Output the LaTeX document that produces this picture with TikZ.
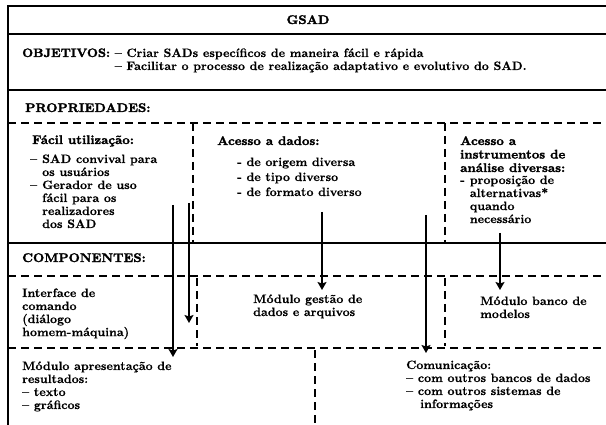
\documentclass[tikz,border=0pt]{standalone}
\usepackage{fontspec}
\usepackage{tikz}
\usetikzlibrary{arrows.meta}
\newfontfamily\headfont{lmroman10-bold.otf}[FakeBold=2, FakeStretch=1.04]
\newfontfamily\bodyfont{lmroman10-bold.otf}[FakeBold=0.4]
\newcommand{\rows}[1]{\begin{tabular}[t]{@{}l@{}}#1\end{tabular}}
\newcommand{\hang}[1]{\begin{tabular}[t]{@{}l@{\hspace{5pt}}l@{}}#1\end{tabular}}

\begin{document}
\begin{tikzpicture}[x=1pt, y=-1pt,
        frame/.style={line width=1.5pt},
        splitline/.style={line width=1.5pt, dash pattern=on 8pt off 5pt},
        flow/.style={line width=1.5pt, -{Stealth[length=8pt, width=9pt, inset=1.5pt]}},
        txt/.style={anchor=base west, inner sep=0pt,
            font=\bodyfont\fontsize{12.2}{13}\selectfont},
        heading/.style={txt, font=\headfont\fontsize{12.5}{13.5}\selectfont}
    ]
    \useasboundingbox (0,0) rectangle (606,425);

    % frame and dividers
    \draw[frame] (8,425) -- (8,6) -- (606,6);
    \draw[frame] (8,34) -- (606,34);
    \draw[frame] (8,90) -- (606,90);
    \draw[splitline] (8,123) -- (606,123);
    \draw[splitline] (193,123) -- (193,243);
    \draw[splitline] (445,123) -- (445,243);
    \draw[frame] (8,243) -- (606,243);
    \draw[splitline] (8,276) -- (606,276);
    \draw[splitline] (197,278) -- (197,346);
    \draw[splitline] (445,278) -- (445,346);
    \draw[splitline] (8,348) -- (606,348);
    \draw[splitline] (315,350) -- (315,425);

    % texts
    \node[heading, anchor=base] (gsad) at (308,24) {GSAD};
    \node[txt] (obj) at (22,57) {{\headfont OBJETIVOS:} \rows{– Criar SADs específicos de maneira fácil e rápida\\
        – Facilitar o processo de realização adaptativo e evolutivo do SAD.}};
    \node[heading] (prop) at (25,112) {PROPRIEDADES:};

    \node[heading] (facil) at (32,144) {Fácil utilização:};
    \node[txt] (facillist) at (30,163) {\hang{–& SAD convival para\\ & os usuários\\
        –& Gerador de uso\\ & fácil para os\\ & realizadores\\ & dos SAD}};

    \node[heading] (dados) at (217,145) {Acesso a dados:};
    \node[txt] (dadoslist) at (237,166) {\rows{- de origem diversa\\[2pt]
        - de tipo diverso\\[2pt] - de formato diverso}};

    \node[heading] (instr) at (460,145) {\rows{Acesso a\\ instrumentos de\\ análise diversas:}};
    \node[txt] (instrlist) at (460,184) {\hang{-& proposição de\\ & alternativas*\\ & quando\\ & necessário}};

    \node[heading] (comp) at (22,262) {COMPONENTES:};
    \node[txt] (iface) at (22,297) {\rows{Interface de\\ comando\\ (diálogo\\ homem-máquina)}};
    \node[txt] (gestao) at (253,303) {\rows{Módulo gestão de\\ dados e arquivos}};
    \node[txt] (banco) at (480,305) {\rows{Módulo banco de\\ modelos}};
    \node[txt] (apres) at (22,370) {\rows{Módulo apresentação de\\ resultados:\\ – texto\\ – gráficos}};
    \node[txt] (comun) at (406,369) {\rows{Comunicação:\\ – com outros bancos de dados\\
        – com outros sistemas de\\ \hspace{14pt}informações}};

    % arrows
    \coordinate (facil-a) at (173,205);
    \coordinate (apres-in) at (173,357);
    \coordinate (facil-b) at (189,203);
    \coordinate (iface-in) at (189,323);
    \coordinate (dados-a) at (322,212);
    \coordinate (gestao-in) at (322,290);
    \coordinate (dados-b) at (426,215);
    \coordinate (comun-in) at (426,353);
    \coordinate (instr-a) at (500,233);
    \coordinate (banco-in) at (500,290);
    \draw[flow] (facil-a) -- (apres-in);
    \draw[flow] (facil-b) -- (iface-in);
    \draw[flow] (dados-a) -- (gestao-in);
    \draw[flow] (dados-b) -- (comun-in);
    \draw[flow] (instr-a) -- (banco-in);
\end{tikzpicture}
\end{document}
